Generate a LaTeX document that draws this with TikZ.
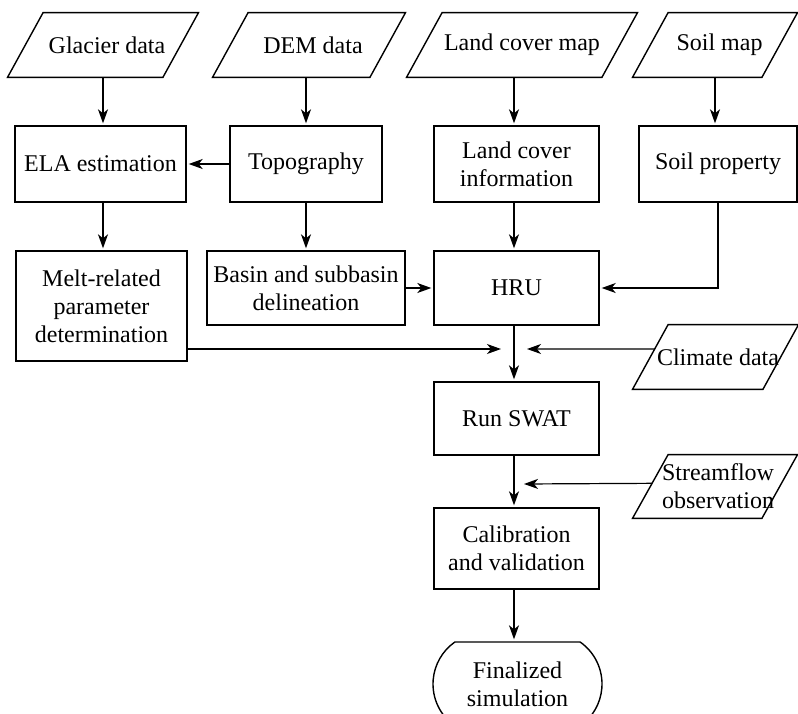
\documentclass[tikz,border=0pt]{standalone}
\usepackage{fontspec}
\setmainfont{Liberation Serif}
\usepackage{tikz}
\usetikzlibrary{
	arrows.meta,
	calc,
	shapes.misc
}
\newcommand{\ioshape}[2][0pt]{
	\coordinate (#2-bl) at ([xshift=#1-8.9pt]#2.south west);
	\coordinate (#2-tl) at ([xshift=#1+8.9pt]#2.north west);
	\coordinate (#2-s) at ([xshift=#1]#2.south);
	\draw[line width=0.7pt] (#2-bl) -- ([xshift=#1-8.9pt]#2.south east) -- ([xshift=#1+8.9pt]#2.north east) -- (#2-tl) -- cycle;
}

\begin{document}
\begin{tikzpicture}[x=0.5pt, y=-0.5pt,
		font=\fontsize{12}{14}\selectfont,
		box/.style={draw, line width=0.7pt, align=center, inner sep=0pt, minimum height=38pt},
		io/.style={align=center, inner sep=0pt, minimum height=32pt},
		flow/.style={-{Stealth[length=7pt, width=5pt, inset=2pt]}, line width=0.6pt, shorten >=1pt}]
		\useasboundingbox (0,0) rectangle (798,713);
		\node[io, minimum width=77.3pt] (glacier) at (107,45) {Glacier data};
		\node[io, minimum width=78.3pt] (dem) at (313,45) {DEM data};
		\node[io, minimum width=97.3pt] (lcmap) at (522,45) {Land cover map};
		\node[io, minimum width=64.3pt] (soilmap) at (719.5,45) {Soil map};
		\ioshape[-2pt]{glacier}
		\ioshape[-2pt]{dem}
		\ioshape{lcmap}
		\ioshape[-2.25pt]{soilmap}
		\node[box, minimum width=85.5pt] (ela) at (100.5,164) {ELA estimation};
		\node[box, minimum width=76pt] (topo) at (306,164) {Topography};
		\node[box, minimum width=82.5pt] (lcinfo) at (516.5,164) {Land cover\\information};
		\node[box, minimum width=79pt] (soilprop) at (718,164) {Soil property};
		\node[box, minimum width=85.5pt, minimum height=55pt] (melt) at (101.5,306) {Melt-related\\parameter\\determination};
		\node[box, minimum width=99pt, minimum height=37pt] (basin) at (306,288) {Basin and subbasin\\delineation};
		\node[box, minimum width=82.5pt, minimum height=37pt] (hru) at (516.5,288) {HRU};
		\node[io, minimum width=64.8pt] (climate) at (718,357) {Climate data};
		\ioshape[-1.25pt]{climate}
		\node[box, minimum width=82.5pt, minimum height=36.5pt] (swat) at (516.5,418.5) {Run SWAT};
		\node[io, minimum width=64.3pt, minimum height=31.5pt] (stream) at (718,486.5) {Streamflow\\observation};
		\ioshape[-1.5pt]{stream}
		\node[box, minimum width=82.5pt, minimum height=40.5pt] (calib) at (516.5,548.5) {Calibration\\and validation};
		\node[draw, line width=0.7pt, align=center, inner sep=0pt, rounded rectangle, rounded rectangle arc length=110, minimum width=84.5pt, minimum height=42pt] (final) at (517.5,684) {Finalized\\simulation};
		\coordinate (spine) at (514,0);
		\coordinate (jl) at (503,349);
		\coordinate (jr) at (525,349);
		\coordinate (sr) at (522,484);
		\draw[flow] (glacier-s) -- (glacier-s |- ela.north);
		\draw[flow] (dem-s -| topo.north) -- (topo.north);
		\draw[flow] (lcmap-s -| spine) -- (lcinfo.north -| spine);
		\draw[flow] (soilmap-s) -- (soilmap-s |- soilprop.north);
		\draw[flow] (topo.west) -- (ela.east);
		\draw[flow] (glacier-s |- ela.south) -- (glacier-s |- melt.north);
		\draw[flow] (topo.south) -- (basin.north);
		\draw[flow] (lcinfo.south -| spine) -- (hru.north -| spine);
		\draw[flow] (basin.east) -- (hru.west);
		\draw[flow] (soilprop.south) |- (hru.east);
		\draw[flow] (melt.south east |- jl) -- (jl);
		\draw[flow] ($(climate-bl)!0.625!(climate-tl)$) -- (jr);
		\draw[flow] (hru.south -| spine) -- (swat.north -| spine);
		\draw[flow] ($(stream-bl)!0.55!(stream-tl)$) -- (sr);
		\draw[flow] (swat.south -| spine) -- (calib.north -| spine);
		\draw[flow] (calib.south -| spine) -- (final.north -| spine);
	\end{tikzpicture}
\end{document}
